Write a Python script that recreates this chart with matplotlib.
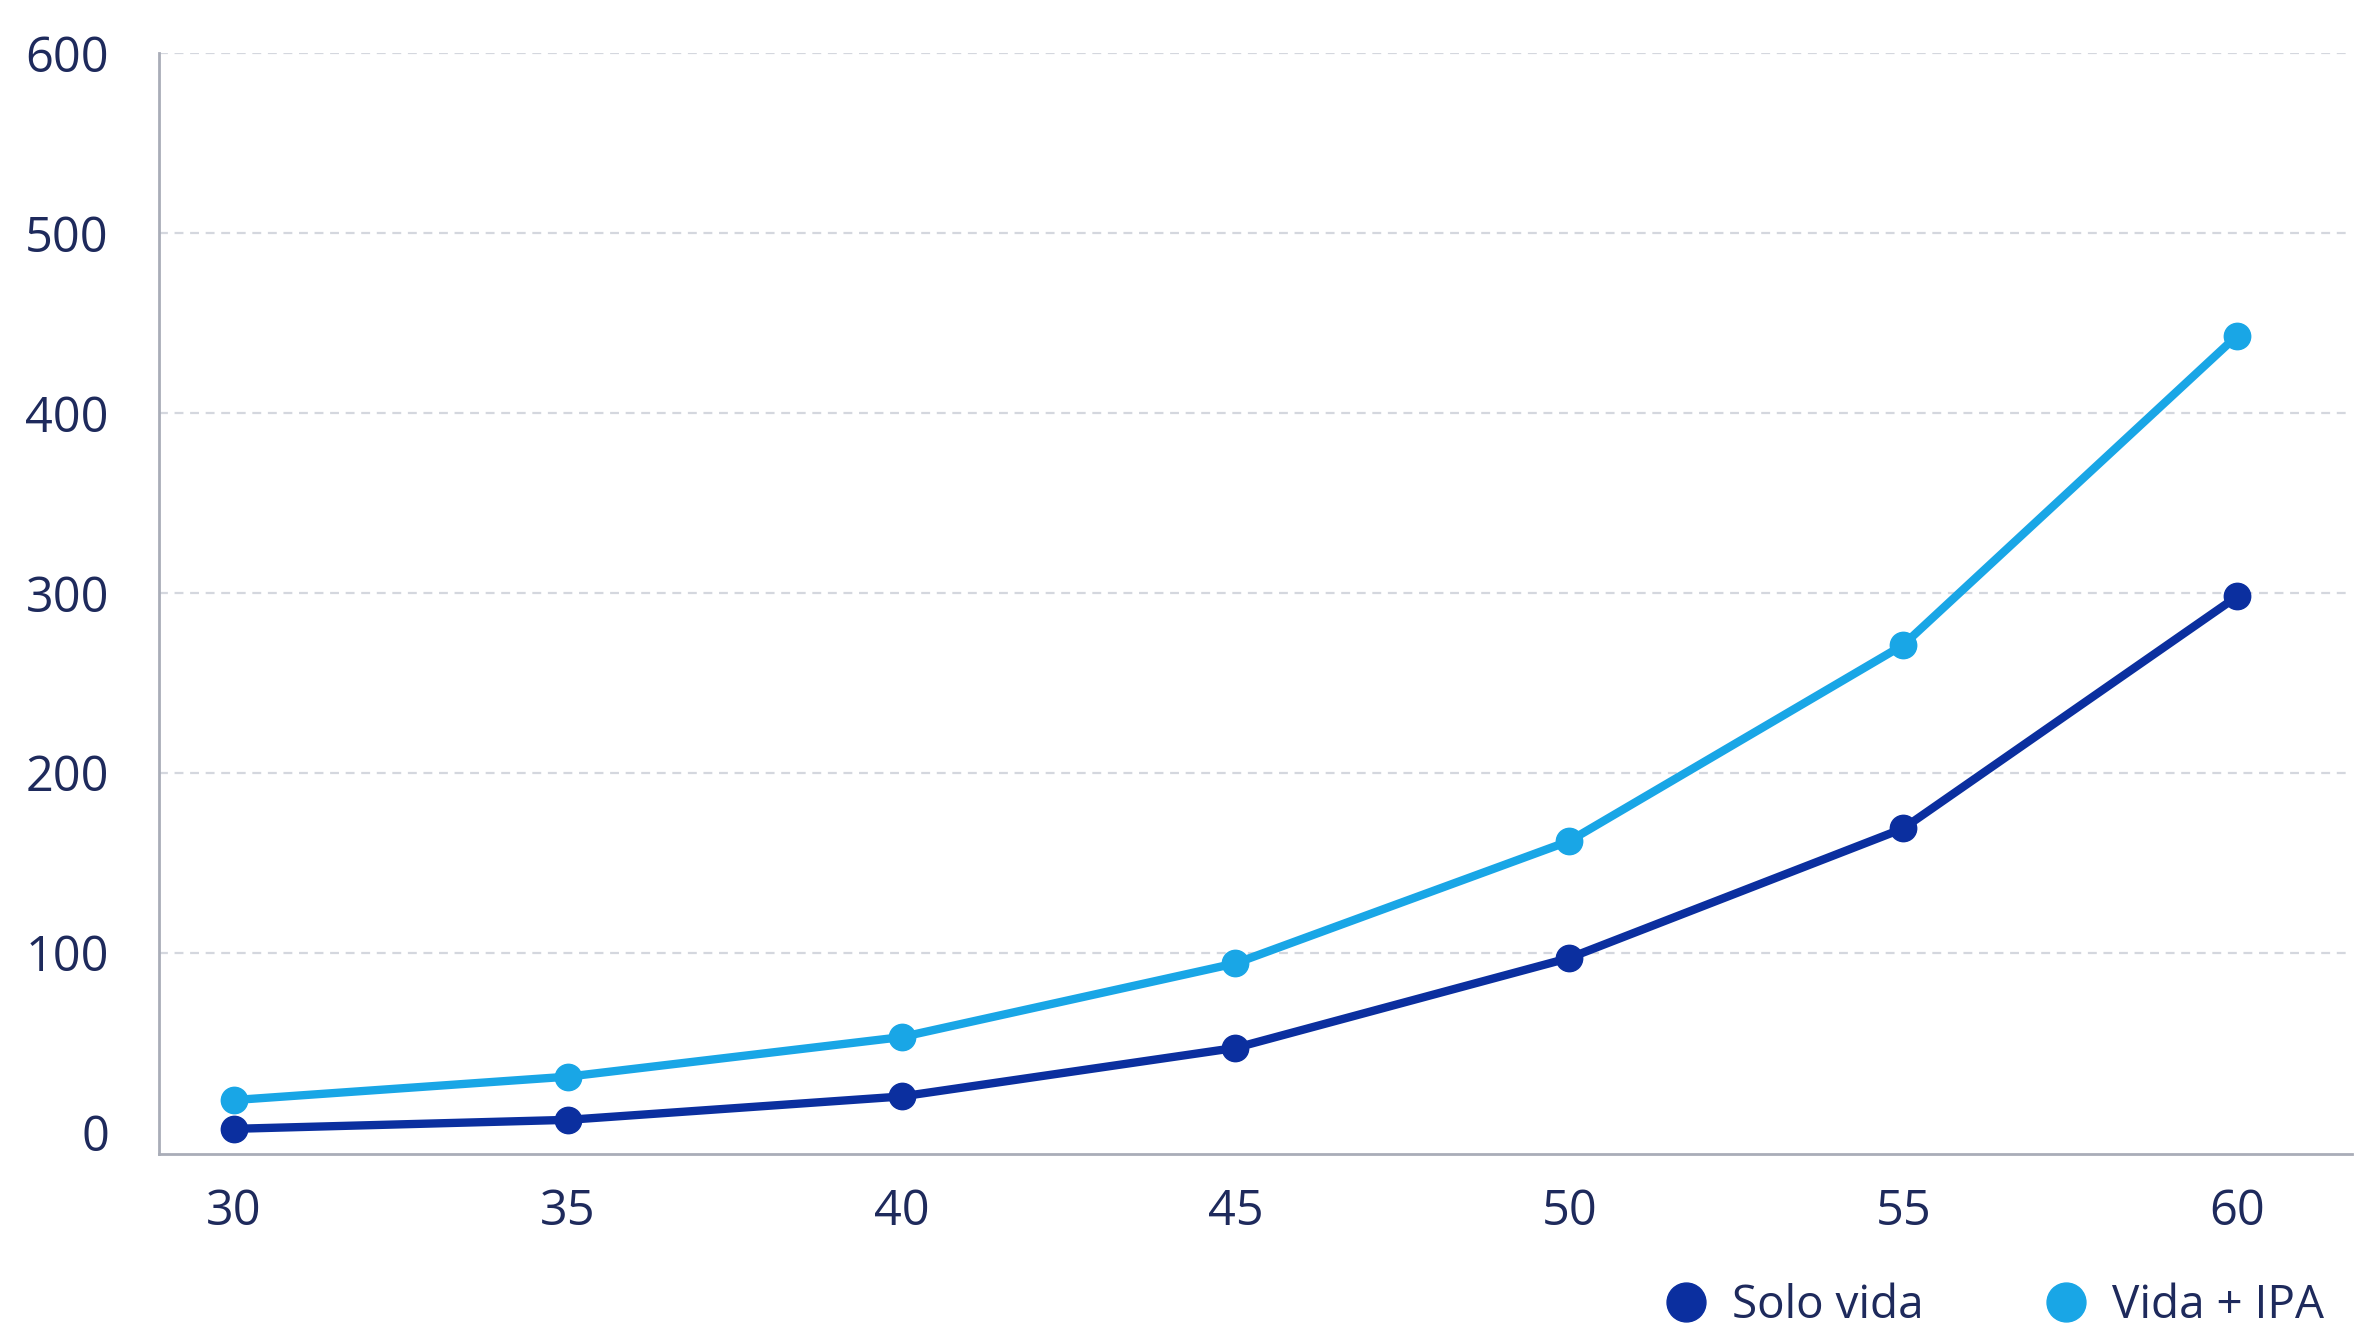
import matplotlib
matplotlib.use("Agg")
import matplotlib.pyplot as plt
from matplotlib.lines import Line2D

plt.rcParams['font.family'] = ['Open Sans', 'DejaVu Sans']

edades = [30, 35, 40, 45, 50, 55, 60]
solo_vida = [2, 7, 20, 47, 97, 169, 298]
vida_ipa = [18, 31, 53, 94, 162, 271, 443]
y_ticks = [0, 100, 200, 300, 400, 500, 600]
nombres = ["Solo vida", "Vida + IPA"]

c_solo = "#0b2f9f"
c_ipa = "#19a6e6"
c_text = "#1e2a5c"

fig = plt.figure(figsize=(23.72, 13.28), dpi=100)
ax = fig.add_axes([0.067, 0.131, 0.9246, 0.829])

# dashed grid, skip the zero line
for v in y_ticks[1:]:
    ax.axhline(v, color="#d4d7de", lw=1.6, ls=(0, (4, 3)), zorder=0)

ax.plot(edades, solo_vida, color=c_solo, lw=6, marker="o", ms=19, zorder=3)
ax.plot(edades, vida_ipa, color=c_ipa, lw=6, marker="o", ms=19, zorder=3)

ax.set_xlim(28.88, 61.72)
ax.set_ylim(-12, 600)
ax.set_xticks(edades)
ax.set_yticks(y_ticks)

for s in ["top", "right"]:
    ax.spines[s].set_visible(False)
for s in ["left", "bottom"]:
    ax.spines[s].set_color("#a9adb8")
    ax.spines[s].set_linewidth(2)

ax.tick_params(axis="both", length=0, labelsize=35, labelcolor=c_text)
ax.tick_params(axis="y", pad=36)
ax.tick_params(axis="x", pad=24)

handles = [Line2D([], [], color=c, marker="o", ls="none", ms=28) for c in (c_solo, c_ipa)]
fig.legend(handles, nombres, loc="lower right", bbox_to_anchor=(0.997, -0.032),
           ncol=2, frameon=False, fontsize=33, labelcolor=c_text,
           handletextpad=0.5, columnspacing=2.6, handlelength=1.0)

fig.savefig("out.png", dpi=100, facecolor="white")
